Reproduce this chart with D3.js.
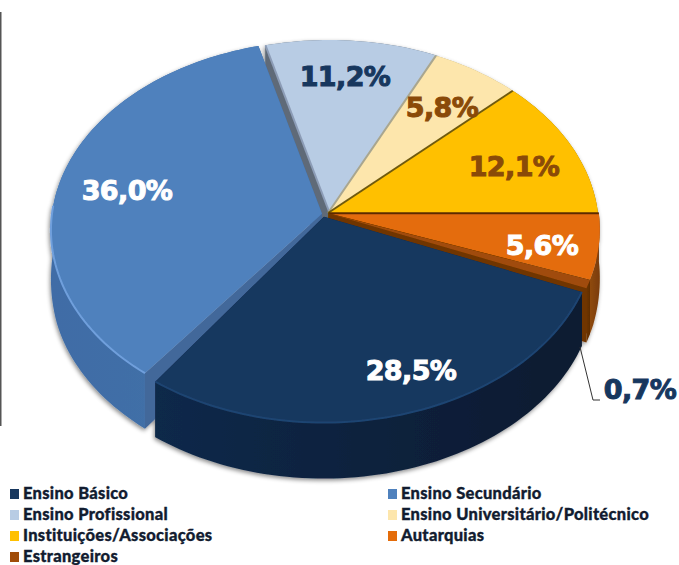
<!DOCTYPE html>
<html><head><meta charset="utf-8">
<script src="https://cdn.jsdelivr.net/npm/d3@7"></script>
<style>html,body{margin:0;padding:0;background:#fff}svg{display:block}</style>
</head><body><div id="c"></div>
<script>
const categories = ["Ensino Básico","Ensino Secundário","Ensino Profissional","Ensino Universitário/Politécnico","Instituições/Associações","Autarquias","Estrangeiros"];
const values = [28.5,36.0,11.2,5.8,12.1,5.6,0.7];
const valueLabels = ["28,5%","36,0%","11,2%","5,8%","12,1%","5,6%","0,7%"];

const topColors  = ["#17375e","#4f81bd","#b8cce4","#fde6ac","#ffc000","#e46c0a","#a04c08"];
const rimColors  = [["#10294a","#0a1a30"],["#3f6ca6","#4472a8"],["#5f6b78","#5f6b78"],["#b5a878","#b5a878"],["#8a6c00","#8a6c00"],["#8f4a10","#7a3c08"],["#6f3505","#5f2c04"]];
const wallColors = ["#0f2745","#43679a","#5f6b78","#a9a68f","#6f5a10","#6a3406","#6f3505"];
const edgeColors = [null,null,"#8c9cb6","#a9a68f","#6f5a10","#5c2c05",null];
const bevelColors= ["#1f4472","#6f9fdc",null,null,null,null,null];
const labelColors= ["#ffffff","#ffffff","#17375e","#8a4a08","#8a4a08","#ffffff","#17375e"];
const shiftX     = [-0.015,-0.022,0.006,0,0,0.003,0.003];
const shiftY     = [-0.02,-0.004,0,0,0,-0.001,-0.002];
const startTrim  = [0,2.2,0,0,0,0,0];
const labelSpots = [[411,370],[127,190],[345,76],[442,107],[514,166],[542,245],[640,389]];
const paintOrder = [2,3,4,5,6,1,0];

const W=679,H=565,cx=328,cy=213,R=270,tilt=0.695,persp=0.0847,rotation=112.7;
const toRad=Math.PI/180;
const svg=d3.select("#c").append("svg").attr("width",W).attr("height",H);
const defs=svg.append("defs");
const f=defs.append("filter").attr("id","sh").attr("x","-10%").attr("y","-10%").attr("width","120%").attr("height","120%");
f.append("feDropShadow").attr("dx",-1).attr("dy",2).attr("stdDeviation",2).attr("flood-color","#000").attr("flood-opacity",.45);

rimColors.forEach((c,i)=>{
  const g=defs.append("linearGradient").attr("id","rim"+i);
  g.append("stop").attr("offset",0).attr("stop-color",c[0]);
  g.append("stop").attr("offset",1).attr("stop-color",c[1]);
});

svg.append("rect").attr("x",0).attr("y",12).attr("width",1.5).attr("height",414).attr("fill","#555");

const pie=d3.pie().sort(null).startAngle(rotation*toRad).endAngle((rotation+360)*toRad);
const arcs=pie(values);
const depth=d3.scaleLinear().domain([-1,-0.3,1]).range([56,54,25]).clamp(true);
const line=d3.line();

function project(X,Y,low){
  const s=1/(1+persp*Y);
  return [cx+R*X*s, cy-R*tilt*Y*s+(low?depth(Y):0)];
}
function disc(a,r,ex,ey){return [Math.sin(a)*r+ex,Math.cos(a)*r+ey];}

const g=svg.append("g").attr("filter","url(#sh)");
paintOrder.forEach(i=>{
  const d=arcs[i];
  const ex=shiftX[i], ey=shiftY[i];
  const a0=d.startAngle+startTrim[i]*toRad, a1=d.endAngle;
  const n=Math.max(4,Math.ceil((a1-a0)/(1.5*toRad)));
  const rim=d3.range(n+1).map(t=>disc(a0+(a1-a0)*t/n,1,ex,ey));
  const apex=[ex,ey];
  const top=p=>project(p[0],p[1],false), low=p=>project(p[0],p[1],true);
  const wall=(a,b)=>line([top(a),top(b),low(b),low(a)])+"Z";
  g.append("path").attr("d",wall(apex,rim[0])).attr("fill",wallColors[i]);
  g.append("path").attr("d",wall(apex,rim[n])).attr("fill",wallColors[i]);
  g.append("path").attr("d",line(rim.map(top).concat(rim.slice().reverse().map(low)))+"Z").attr("fill",`url(#rim${i})`);
  g.append("path").attr("d",line([top(apex)].concat(rim.map(top)))+"Z").attr("fill",topColors[i]);
  if(edgeColors[i]) g.append("path").attr("d",line([top(apex),top(rim[0])])).attr("fill","none").attr("stroke",edgeColors[i]).attr("stroke-width",2);
  if(bevelColors[i]){
    const front=rim.filter(p=>p[1]<0.05);
    g.append("path").attr("d",line(front.map(top))).attr("fill","none").attr("stroke",bevelColors[i]).attr("stroke-width",2);
  }
});

svg.append("path").attr("d",line([[580,347],[593,400],[600,400]])).attr("fill","none").attr("stroke","#333").attr("stroke-width",1);

svg.append("g").selectAll("text").data(valueLabels).join("text")
  .attr("x",(d,i)=>labelSpots[i][0]).attr("y",(d,i)=>labelSpots[i][1]+10)
  .attr("text-anchor","middle").attr("font-family","DejaVu Sans").attr("font-weight",700)
  .attr("font-size",27).attr("letter-spacing",-0.6)
  .attr("fill",(d,i)=>labelColors[i]).attr("stroke",(d,i)=>labelColors[i]).attr("stroke-width",1)
  .text(d=>d);

const legendX=d3.scalePoint().domain([0,1]).range([10,388]);
const legendY=d3.scalePoint().domain([0,1,2,3]).range([494,557]);
const lg=svg.append("g").selectAll("g").data(categories).join("g")
  .attr("transform",(d,i)=>`translate(${legendX(i<6?i%2:0)},${legendY(i<6?Math.floor(i/2):3)})`);
lg.append("rect").attr("x",0).attr("y",-5).attr("width",9).attr("height",10).attr("fill",(d,i)=>topColors[i]);
lg.append("text").attr("x",13).attr("y",5).attr("font-family","Lato").attr("font-weight",900)
  .attr("font-size",16.5).attr("letter-spacing",0.3).attr("fill","#121c30").attr("stroke","#121c30").attr("stroke-width",0.35).text(d=>d);
</script></body></html>
